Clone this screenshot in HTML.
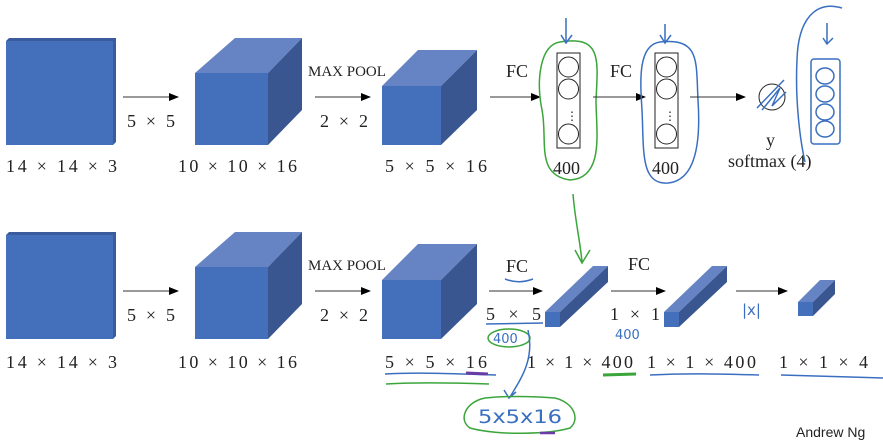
<!DOCTYPE html>
<html><head><meta charset="utf-8"><style>
body{margin:0;background:#fff}
svg{display:block}
text{font-family:"Liberation Serif",serif;font-size:18px;fill:#222}
</style></head><body>
<svg width="883" height="441" viewBox="0 0 883 441" xmlns="http://www.w3.org/2000/svg">
<defs><marker id="a" markerWidth="10" markerHeight="8" refX="9" refY="4" orient="auto" markerUnits="userSpaceOnUse"><path d="M0,0 L10,4 L0,8z" fill="#000"/></marker></defs>
<g id="row">
<polygon points="6,41 9,38 116,38 116,142 113,145 113,41" fill="#3a5c9c"/>
<rect x="6" y="41" width="107" height="104" fill="#4470bb"/>
<line x1="123" y1="97" x2="178" y2="97" stroke="#333" marker-end="url(#a)"/>
<text x="127" y="127" textLength="48" lengthAdjust="spacing">5 × 5</text>
<polygon points="195,73 235,38 302,38 268,73" fill="#6684c4"/>
<polygon points="268,73 302,38 302,110 268,145" fill="#3a5690"/>
<rect x="195" y="73" width="73" height="72" fill="#4470bb"/>
<line x1="315" y1="97" x2="370" y2="97" stroke="#333" marker-end="url(#a)"/>
<text x="308" y="76" style="font-size:15px">MAX POOL</text>
<text x="320" y="127" textLength="48" lengthAdjust="spacing">2 × 2</text>
<polygon points="382,86 418,50 477,50 441,86" fill="#6684c4"/>
<polygon points="441,86 477,50 477,110 441,145" fill="#3a5690"/>
<rect x="382" y="86" width="59" height="59" fill="#4470bb"/>
</g>
<text x="6" y="172" textLength="111" lengthAdjust="spacing">14 × 14 × 3</text>
<text x="178" y="172" textLength="119" lengthAdjust="spacing">10 × 10 × 16</text>
<text x="385" y="172" textLength="102" lengthAdjust="spacing">5 × 5 × 16</text>
<line x1="490" y1="97" x2="540" y2="97" stroke="#333" marker-end="url(#a)"/>
<text x="506" y="77">FC</text>
<rect x="557" y="53" width="23" height="95" fill="none" stroke="#222"/>
<circle cx="568.5" cy="67" r="10" fill="none" stroke="#222"/>
<circle cx="568.5" cy="89" r="10" fill="none" stroke="#222"/>
<circle cx="568.5" cy="134" r="10" fill="none" stroke="#222"/>
<text x="566" y="120" style="font-size:12px">⋮</text>
<text x="553" y="174">400</text>
<path d="M560,42 C540,45 536,80 542,110 C548,140 535,175 570,180 C605,178 596,130 596,100 C598,60 602,35 560,42Z" fill="none" stroke="#3aa53a" stroke-width="1.5"/>
<path d="M566,18 L566,42 M561,35 L566,43 L572,35" fill="none" stroke="#3a6fc0" stroke-width="1.5"/>
<line x1="593" y1="97" x2="645" y2="97" stroke="#333" marker-end="url(#a)"/>
<text x="610" y="77">FC</text>
<rect x="655" y="53" width="23" height="95" fill="none" stroke="#222"/>
<circle cx="666.5" cy="67" r="10" fill="none" stroke="#222"/>
<circle cx="666.5" cy="89" r="10" fill="none" stroke="#222"/>
<circle cx="666.5" cy="134" r="10" fill="none" stroke="#222"/>
<text x="664" y="120" style="font-size:12px">⋮</text>
<text x="652" y="174">400</text>
<path d="M660,42 C638,45 640,80 642,110 C644,150 640,185 668,183 C700,180 700,130 698,100 C696,60 700,38 660,42Z" fill="none" stroke="#3a6fc0" stroke-width="1.5"/>
<path d="M665,24 L665,42 M660,35 L665,43 L671,35" fill="none" stroke="#3a6fc0" stroke-width="1.5"/>
<line x1="690" y1="97" x2="745" y2="97" stroke="#333" marker-end="url(#a)"/>
<circle cx="772" cy="97" r="13" fill="none" stroke="#222"/>
<path d="M757,108 L784,80 M762,110 L780,88 L772,106 L786,92" fill="none" stroke="#3a6fc0" stroke-width="1.5"/>
<text x="766" y="146">y</text>
<text x="728" y="167">softmax (4)</text>
<path d="M842,8 C815,0 798,20 797,60 C795,100 800,140 805,162" fill="none" stroke="#3a6fc0" stroke-width="1.5"/>
<path d="M827,23 L827,43 M823,38 L827,44 L833,38" fill="none" stroke="#3a6fc0" stroke-width="1.5"/>
<rect x="811" y="59" width="29" height="85" rx="3" fill="none" stroke="#3a6fc0" stroke-width="1.5"/>
<ellipse cx="825" cy="76" rx="9" ry="8" fill="none" stroke="#3a6fc0" stroke-width="1.5"/>
<ellipse cx="825" cy="94" rx="9" ry="8" fill="none" stroke="#3a6fc0" stroke-width="1.5"/>
<ellipse cx="825" cy="112" rx="9" ry="8" fill="none" stroke="#3a6fc0" stroke-width="1.5"/>
<ellipse cx="825" cy="129" rx="9" ry="8" fill="none" stroke="#3a6fc0" stroke-width="1.5"/>
<use href="#row" transform="translate(0,194)"/>
<text x="6" y="368" textLength="111" lengthAdjust="spacing">14 × 14 × 3</text>
<text x="178" y="368" textLength="119" lengthAdjust="spacing">10 × 10 × 16</text>
<text x="385" y="368" textLength="102" lengthAdjust="spacing">5 × 5 × 16</text>
<path d="M573,194 C575,220 580,240 582,262 M575,250 L582,263 L590,250" fill="none" stroke="#3aa53a" stroke-width="1.5"/>
<line x1="489" y1="291" x2="542" y2="291" stroke="#333" marker-end="url(#a)"/>
<text x="506" y="272">FC</text>
<path d="M505,279 C515,283 525,282 533,279" fill="none" stroke="#3a6fc0" stroke-width="1.5"/>
<text x="486" y="320" textLength="55" lengthAdjust="spacing">5 × 5</text>
<line x1="486" y1="324" x2="543" y2="323" stroke="#3a6fc0" stroke-width="1.5"/>
<polygon points="545,312 593,266 608,266 560,312" fill="#6684c4"/>
<polygon points="560,312 608,266 608,282 560,327" fill="#3a5690"/>
<rect x="545" y="312" width="15" height="15" fill="#4470bb"/>
<line x1="611" y1="291" x2="665" y2="291" stroke="#333" marker-end="url(#a)"/>
<text x="628" y="270">FC</text>
<text x="610" y="320" textLength="50" lengthAdjust="spacing">1 × 1</text>
<polygon points="664,312 712,266 727,266 679,312" fill="#6684c4"/>
<polygon points="679,312 727,266 727,282 679,327" fill="#3a5690"/>
<rect x="664" y="312" width="15" height="15" fill="#4470bb"/>
<text x="615" y="339" style="font-size:13px;fill:#3a6fc0;font-family:'DejaVu Sans',sans-serif">400</text>
<line x1="736" y1="291" x2="787" y2="291" stroke="#333" marker-end="url(#a)"/>
<text x="742" y="315" style="font-size:15px;fill:#3a6fc0;font-family:'DejaVu Sans',sans-serif">|x|</text>
<polygon points="798,302 820,280 835,280 813,302" fill="#6684c4"/>
<polygon points="813,302 835,280 835,294 813,316" fill="#3a5690"/>
<rect x="798" y="302" width="15" height="14" fill="#4470bb"/>
<ellipse cx="509" cy="338" rx="21" ry="9" fill="none" stroke="#3aa53a" stroke-width="1.5"/>
<text x="493" y="343" style="font-size:13px;fill:#3a6fc0;font-family:'DejaVu Sans',sans-serif">400</text>
<path d="M528,330 C535,360 520,380 510,397 M504,390 L509,398 L516,392" fill="none" stroke="#3a6fc0" stroke-width="1.5"/>
<text x="527" y="368" textLength="106" lengthAdjust="spacing">1 × 1 × 400</text>
<text x="647" y="368" textLength="109" lengthAdjust="spacing">1 × 1 × 400</text>
<text x="779" y="368" textLength="89" lengthAdjust="spacing">1 × 1 × 4</text>
<path d="M385,374 C420,372 460,374 496,375" fill="none" stroke="#3a6fc0" stroke-width="1.5"/>
<path d="M466,373 L488,374" stroke="#6a3aa5" stroke-width="3"/>
<path d="M386,384 C420,382 460,383 489,384" fill="none" stroke="#3aa53a" stroke-width="1.5"/>
<path d="M603,375 L636,374" stroke="#3aa53a" stroke-width="3"/>
<path d="M650,375 C690,373 720,374 759,375" fill="none" stroke="#3a6fc0" stroke-width="1.5"/>
<path d="M781,375 C820,376 850,377 883,378" fill="none" stroke="#3a6fc0" stroke-width="1.5"/>
<path d="M485,398 C465,402 458,420 470,428 C500,436 550,434 570,428 C580,420 575,403 555,398 C530,396 505,396 485,398Z" fill="none" stroke="#3aa53a" stroke-width="1.5"/>
<text x="478" y="423" textLength="84" lengthAdjust="spacingAndGlyphs" style="font-size:19px;fill:#3a6fc0;font-family:'DejaVu Sans',sans-serif">5x5x16</text>
<path d="M540,433 L555,433" stroke="#6a3aa5" stroke-width="2.5"/>
<text x="796" y="437" style="font-family:'Liberation Sans',sans-serif;font-size:14px;fill:#222">Andrew Ng</text>
</svg>
</body></html>
